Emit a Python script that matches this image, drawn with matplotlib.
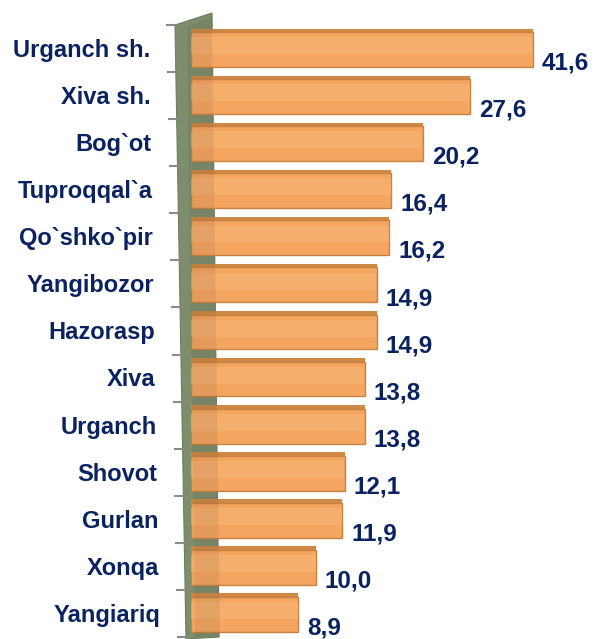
import matplotlib
matplotlib.use('Agg')
import matplotlib.pyplot as plt
from matplotlib.patches import Polygon
from matplotlib.lines import Line2D
from matplotlib.transforms import blended_transform_factory
import numpy as np

categories = ["Urganch sh.", "Xiva sh.", "Bog`ot", "Tuproqqal`a", "Qo`shko`pir",
              "Yangibozor", "Hazorasp", "Xiva", "Urganch", "Shovot", "Gurlan",
              "Xonqa", "Yangiariq"]
values = [41.6, 27.6, 20.2, 16.4, 16.2, 14.9, 14.9, 13.8, 13.8, 12.1, 11.9, 10.0, 8.9]
value_labels = ["41,6", "27,6", "20,2", "16,4", "16,2", "14,9", "14,9", "13,8",
                "13,8", "12,1", "11,9", "10,0", "8,9"]

plt.rcParams['font.family'] = ['Liberation Sans', 'DejaVu Sans']
NAVY = '#0A2360'

W, H = 596, 639
fig = plt.figure(figsize=(W / 100, H / 100), dpi=100)


def fx(px):
    return px / W


def fy(py):
    return 1 - py / H


ax = fig.add_axes([fx(191), fy(637), fx(596) - fx(191), fy(25) - fy(637)])
ax.set_xscale('log')
XMIN, XMAX = 4.4, 63.0
ax.set_xlim(XMIN, XMAX)
n = len(values)
ax.set_ylim(n - 0.5, -0.5)
ax.axis('off')

# wall (decoration)
wall = Polygon([(fx(175), fy(25)), (fx(212), fy(13)), (fx(219), fy(637)), (fx(186), fy(639))],
               closed=True, transform=fig.transFigure, facecolor='#7E8D6C',
               edgecolor='#6E7C5E', lw=0.8, zorder=-1)
fig.add_artist(wall)

y = np.arange(n)
vals = np.array(values)
widths = vals - XMIN

# top face
ax.barh(y - 0.38, widths, left=XMIN, height=0.09, color='#CF8846', lw=0, zorder=2)
# front face
ax.barh(y + 0.02, widths, left=XMIN, height=0.74, color='#F4A560',
        edgecolor='#C88241', lw=1.0, zorder=3)
# soft highlight band
ax.barh(y - 0.06, widths * 0.995, left=XMIN, height=0.36, color='#F9B679',
        lw=0, alpha=0.55, zorder=4)

# value labels
for i, (v, lab) in enumerate(zip(values, value_labels)):
    ax.annotate(lab, xy=(v, i), xytext=(6.5, -10.5), textcoords='offset points',
                ha='left', va='center', fontsize=17.5, fontweight='bold',
                color=NAVY, zorder=6)

# category labels
tr = blended_transform_factory(fig.transFigure, ax.transData)
for i, cat in enumerate(categories):
    xpx = 150 + 10 * i / (n - 1)
    ax.text(fx(xpx), i + 0.04, cat, transform=tr, ha='right', va='center',
            fontsize=17, fontweight='bold', color=NAVY, clip_on=False)

# tick marks on the wall edge
for b in np.arange(-0.5, n, 1.0):
    ypx = H - ax.transData.transform((XMIN, b))[1]
    ex = 175 + 11 * (ypx - 25) / 612
    line = Line2D([fx(ex - 8), fx(ex)], [b, b], transform=tr, color='#8A8A8A',
                  lw=1.5, clip_on=False)
    ax.add_line(line)

# translucent front band of the wall over the bars
band = Polygon([(fx(187), fy(27)), (fx(212), fy(17)), (fx(220), fy(637)), (fx(195), fy(637))],
               closed=True, transform=fig.transFigure, facecolor='#3A3020',
               alpha=0.09, lw=0, zorder=5)
fig.add_artist(band)

fig.savefig('out.png', dpi=100)
